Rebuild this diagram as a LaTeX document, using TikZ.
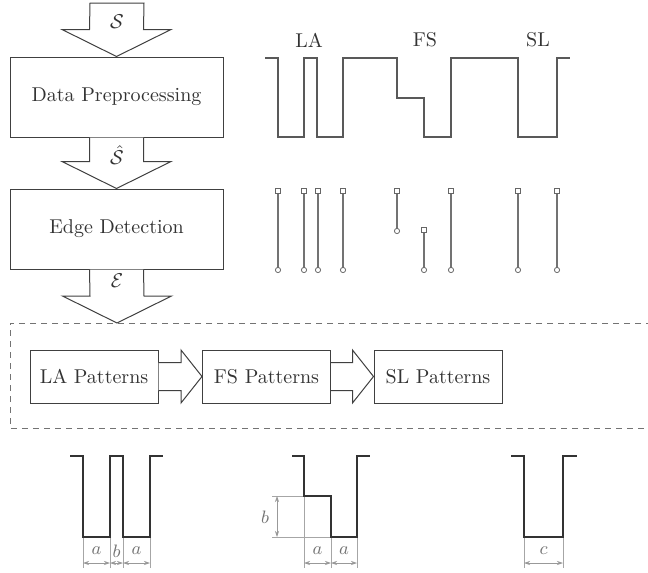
\documentclass[tikz,border=0pt]{standalone}
\usetikzlibrary{calc,arrows.meta}
\begin{document}
\begin{tikzpicture}[x=0.5pt,y=-0.5pt,
  line join=miter,
  box/.style={draw=black!75, line width=0.5pt, inner sep=0pt, text=black!80, font=\normalsize},
  bigbox/.style={box, minimum width=106.5pt, minimum height=40pt},
  patbox/.style={box, minimum width=64pt, minimum height=26.5pt},
  blk/.style={draw=black!75, line width=0.5pt, fill=white},
  wave/.style={draw=black!65, line width=0.6pt},
  edgeln/.style={draw=black!55, line width=0.6pt},
  sqm/.style={draw=black!60, fill=white, line width=0.4pt, minimum size=2.4pt, inner sep=0pt, rectangle},
  cim/.style={draw=black!60, fill=white, line width=0.4pt, minimum size=2.6pt, inner sep=0pt, circle},
  pat/.style={draw=black!80, line width=1.2pt},
  dim/.style={draw=black!35, line width=0.3pt},
  dimarr/.style={draw=black!40, line width=0.35pt, {Stealth[length=3pt,width=2pt]}-{Stealth[length=3pt,width=2pt]}},
  lab/.style={text=black!80, font=\normalsize, inner sep=0pt},
  dlab/.style={text=black!55, font=\small, inner sep=0pt}]
\useasboundingbox (0,0) rectangle (648,573);

% main flow boxes
\node[bigbox] (dp) at (116.5,97) {Data Preprocessing};
\node[bigbox] (ed) at (116.5,229) {Edge Detection};
\coordinate (sTop) at (117,3);
\coordinate (eTip) at (117,323);

% block arrows (down)
\newcommand{\blockdown}[3]{%
  \draw[blk] ($(#1)+(-27,0)$) -- ($(#2)+(-27,-27)$) -- ($(#2)+(-54.5,-27)$) -- (#2)
    -- ($(#2)+(54.5,-27)$) -- ($(#2)+(27,-27)$) -- ($(#1)+(27,0)$) #3;}
\blockdown{sTop}{dp.north}{-- cycle}
\blockdown{dp.south}{ed.north}{}
\blockdown{ed.south}{eTip}{}
\node[lab] (sS) at (117,22) {$\mathcal{S}$};
\node[lab] (sSh) at (117,155) {$\hat{\mathcal{S}}$};
\node[lab] (sE) at (117,281) {$\mathcal{E}$};

% dashed region
\draw[black!55, line width=0.5pt, dash pattern=on 3pt off 2.5pt] (652,323) -- (10,323) -- (10,428) -- (652,428);

% pattern boxes
\node[patbox] (la) at (94,376.5) {LA Patterns};
\node[patbox] (fs) at (266.5,376.5) {FS Patterns};
\node[patbox] (sl) at (438,376.5) {SL Patterns};
\newcommand{\blockright}[2]{%
  \draw[blk] ($(#1)+(0,-14)$) -- ($(#2)+(-21,-14)$) -- ($(#2)+(-21,-26.5)$) -- (#2)
    -- ($(#2)+(-21,26.5)$) -- ($(#2)+(-21,14)$) -- ($(#1)+(0,14)$);}
\blockright{la.east}{fs.west}
\blockright{fs.east}{sl.west}

% waveform labels
\node[lab] (tLA) at (309,40) {LA};
\node[lab] (tFS) at (425,40) {FS};
\node[lab] (tSL) at (538,40) {SL};

% waveform
\draw[wave] (265,58) -- (278,58) -- (278,137) -- (304,137) -- (304,58) -- (317,58) -- (317,137)
  -- (343,137) -- (343,58) -- (397,58) -- (397,98) -- (424,98) -- (424,137) -- (451,137)
  -- (451,58) -- (518,58) -- (518,137) -- (557,137) -- (557,58) -- (570,58);

% edges
\foreach \x in {278,304,318,343,451,518,557} {
  \draw[edgeln] (\x,191) -- (\x,270);
  \node[sqm] (sq\x) at (\x,191) {};
  \node[cim] (ci\x) at (\x,270) {};
}
\draw[edgeln] (397,191) -- (397,231);
\node[sqm] (sq397) at (397,191) {};
\node[cim] (ci397) at (397,231) {};
\draw[edgeln] (424,230) -- (424,270);
\node[sqm] (sq424) at (424,230) {};
\node[cim] (ci424) at (424,270) {};

% LA pattern
\draw[dim] (83,537) -- (83,568) (110,537) -- (110,568) (123,537) -- (123,568) (150,537) -- (150,568);
\draw[dimarr] (83,563) -- (110,563);
\draw[dimarr] (110,563) -- (123,563);
\draw[dimarr] (123,563) -- (150,563);
\draw[pat] (70,456) -- (83,456) -- (83,537) -- (110,537) -- (110,456) -- (123,456) -- (123,537)
  -- (150,537) -- (150,456) -- (163,456);
\node[dlab] (la1) at (96.5,551) {$a$};
\node[dlab] (lb1) at (116.5,551) {$b$};
\node[dlab] (la2) at (136.5,551) {$a$};

% FS pattern
\draw[dim] (272,496) -- (304,496) (272,537) -- (331,537)
  (304,496) -- (304,568) (331,537) -- (331,568) (357,537) -- (357,568);
\draw[dimarr] (277,496) -- (277,537);
\draw[dimarr] (304,563) -- (331,563);
\draw[dimarr] (331,563) -- (357,563);
\draw[pat] (292,456) -- (304,456) -- (304,496) -- (331,496) -- (331,537) -- (357,537) -- (357,456) -- (370,456);
\node[dlab] (lb2) at (265,517) {$b$};
\node[dlab] (la3) at (317.5,551) {$a$};
\node[dlab] (la4) at (344,551) {$a$};

% SL pattern
\draw[dim] (524,537) -- (524,568) (563,537) -- (563,568);
\draw[dimarr] (524,563) -- (563,563);
\draw[pat] (511,456) -- (524,456) -- (524,537) -- (563,537) -- (563,456) -- (577,456);
\node[dlab] (lc) at (543.5,551) {$c$};
\end{tikzpicture}
\end{document}
